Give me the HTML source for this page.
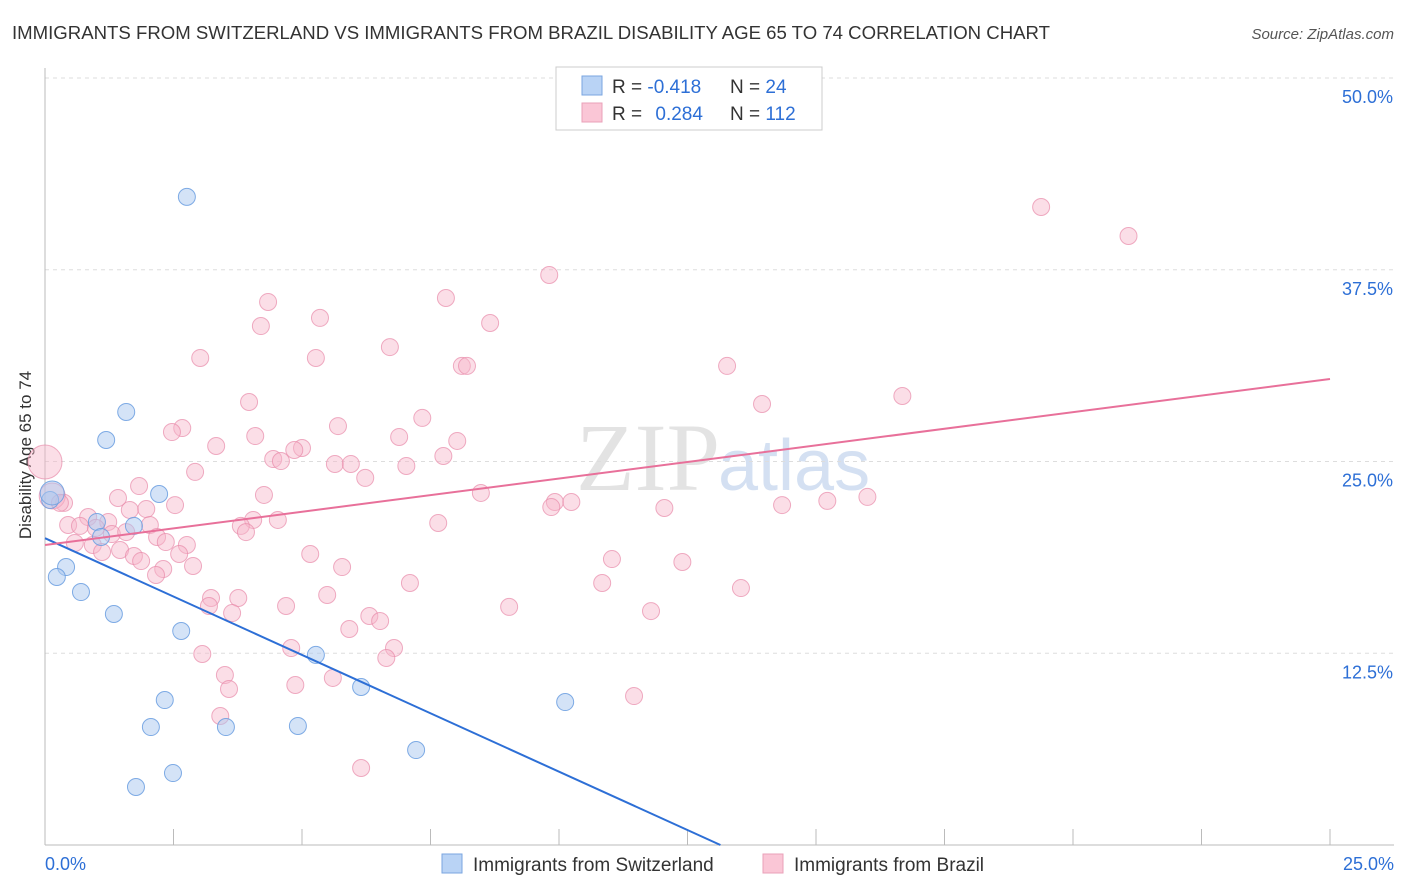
<!DOCTYPE html>
<html><head><meta charset="utf-8"><style>
body{margin:0;background:#fff;font-family:"Liberation Sans",sans-serif;}
#wrap{position:relative;width:1406px;height:892px;overflow:hidden;}
</style></head><body>
<div id="wrap">
<svg id="svg" width="1406" height="892" xmlns="http://www.w3.org/2000/svg">
<text x="12" y="39" font-size="18" fill="#333" textLength="1038" lengthAdjust="spacingAndGlyphs">IMMIGRANTS FROM SWITZERLAND VS IMMIGRANTS FROM BRAZIL DISABILITY AGE 65 TO 74 CORRELATION CHART</text>
<text x="1394" y="39" font-size="15" fill="#555" font-style="italic" text-anchor="end">Source: ZipAtlas.com</text>
<text x="720" y="490" font-size="96" fill="#d8d8d8" text-anchor="end" font-family="Liberation Serif, serif" opacity="0.7">ZIP</text>
<text x="718" y="490" font-size="72" fill="#b8cdea" opacity="0.6">atlas</text>
<text x="31" y="455" font-size="17" fill="#333" text-anchor="middle" transform="rotate(-90 31 455)">Disability Age 65 to 74</text>
<g id="grid"></g><g id="pts"></g><g id="lines"></g>
<g>
<rect x="556" y="67" width="266" height="63" fill="#fff" stroke="#ccc"/>
<rect x="582" y="76" width="20" height="19" fill="#b9d3f5" stroke="#7aa6e0"/>
<rect x="582" y="103" width="20" height="19" fill="#fac6d6" stroke="#eaa0b8"/>
<text x="612" y="93" font-size="19" fill="#333">R = <tspan fill="#2d6fd6">-0.418</tspan></text>
<text x="730" y="93" font-size="19" fill="#333">N = <tspan fill="#2d6fd6">24</tspan></text>
<text x="612" y="120" font-size="19" fill="#333">R = <tspan fill="#2d6fd6" dx="8">0.284</tspan></text>
<text x="730" y="120" font-size="19" fill="#333">N = <tspan fill="#2d6fd6">112</tspan></text>
</g>
<g>
<rect x="442" y="854" width="20" height="19" fill="#b9d3f5" stroke="#7aa6e0"/>
<text x="473" y="871" font-size="19" fill="#333">Immigrants from Switzerland</text>
<rect x="763" y="854" width="20" height="19" fill="#fac6d6" stroke="#eaa0b8"/>
<text x="794" y="871" font-size="19" fill="#333">Immigrants from Brazil</text>
</g>
</svg></div>
<script>
const yTicks=[12.5,25,37.5,50];
const yTickLabels=["12.5%","25.0%","37.5%","50.0%"];
const xTickLabels=["0.0%","25.0%"];
const blueX=[2.76,1.58,1.19,2.22,0.10,1.01,1.73,1.09,0.41,0.23,0.70,1.34,2.65,5.27,6.15,2.33,2.06,3.52,4.92,10.12,7.22,2.49,1.77,0.14];
const blueY=[42.25,28.23,26.40,22.88,22.49,21.06,20.80,20.08,18.12,17.47,16.49,15.06,13.95,12.39,10.30,9.45,7.69,7.69,7.76,9.32,6.19,4.69,3.78,22.95];
const pinkX=[19.38,21.08,9.81,7.80,4.34,5.35,4.20,8.66,6.71,3.02,5.27,8.11,8.21,13.27,16.68,3.97,13.95,7.34,5.70,2.67,2.47,6.89,8.02,3.33,4.09,5.00,4.85,4.44,4.59,7.75,5.64,5.95,7.03,2.92,6.23,1.83,4.26,8.48,1.42,2.53,9.92,10.24,9.85,12.05,14.34,15.22,16.00,1.65,1.97,0.37,0.84,4.05,4.53,3.81,7.65,2.04,3.91,1.23,0.45,0.68,0.99,1.30,1.58,2.18,2.35,0.58,0.93,2.76,2.61,1.11,1.46,1.73,1.87,5.16,11.03,12.40,2.88,2.30,2.16,5.78,7.10,10.84,13.54,3.23,3.76,5.49,3.19,4.69,9.03,11.79,3.64,6.31,6.52,5.92,6.79,4.79,3.06,6.64,3.50,5.60,4.87,3.58,11.46,3.41,6.15,0,0.14,0.29];
const pinkY=[41.59,39.70,37.16,35.66,35.40,34.36,33.83,34.03,32.46,31.75,31.75,31.23,31.23,31.23,29.27,28.88,28.75,27.84,27.31,27.18,26.92,26.60,26.34,26.01,26.66,25.88,25.75,25.16,25.03,25.36,24.84,24.84,24.71,24.32,23.93,23.40,22.82,22.95,22.62,22.16,22.36,22.36,22.03,21.97,22.16,22.43,22.69,21.84,21.90,22.30,21.38,21.19,21.19,20.80,20.99,20.86,20.40,21.06,20.86,20.80,20.67,20.27,20.40,20.08,19.75,19.69,19.56,19.56,18.97,19.10,19.23,18.84,18.51,18.97,18.64,18.45,18.19,17.99,17.60,18.12,17.08,17.08,16.75,16.10,16.10,16.30,15.58,15.58,15.52,15.25,15.12,14.93,14.60,14.08,12.84,12.84,12.45,12.19,11.08,10.89,10.43,10.17,9.71,8.41,5.02,24.97,22.75,22.30];
const blueTrend=[20.0,-1.522];
const pinkTrend=[19.56,0.4328];
const NS="http://www.w3.org/2000/svg";
const X0=45,X1=1330,Y0=845,Y1=78;
const xs=v=>X0+(v/25)*(X1-X0);
const ys=v=>Y0-(v/50)*(Y0-Y1);
function mk(t,a,p){const e=document.createElementNS(NS,t);for(const k in a)e.setAttribute(k,a[k]);p.appendChild(e);return e;}
const grid=document.getElementById('grid');
yTicks.forEach((t,i)=>{
 const l=mk('line',{x1:X0,x2:1394,y1:ys(t),y2:ys(t),stroke:'#ddd','stroke-dasharray':'4,4'},grid);
 
 
 const tx=mk('text',{x:1393,y:ys(t)+25,'font-size':18,fill:'#2d6fd6','text-anchor':'end'},grid);
 tx.textContent=yTickLabels[i];
 
 
});
const ax=mk('line',{x1:X0,x2:1394,y1:Y0,y2:Y0,stroke:'#bbb'},grid);


const ay=mk('line',{x1:X0,x2:X0,y1:68,y2:Y0,stroke:'#bbb'},grid);


for(let i=0;i<=10;i++){const tk=mk('line',{x1:xs(i*2.5),x2:xs(i*2.5),y1:Y0,y2:Y0-16,stroke:'#bbb'},grid);
 
 }
[[0,45,'start'],[25,1394,'end']].forEach((d,i)=>{const t=mk('text',{x:d[1],y:870,'font-size':18,fill:'#2d6fd6','text-anchor':d[2]},grid);t.textContent=xTickLabels[i];
 
 });
const pts=document.getElementById('pts');
pinkX.forEach((x,i)=>{const big=i>=pinkX.length-3&&i<pinkX.length-1;const c=mk('circle',{cx:xs(x),cy:ys(pinkY[i]),r:i==pinkX.length-3?17:(big?13:8.5),fill:'#f6b6ca','fill-opacity':0.45,stroke:'#e88aaa','stroke-opacity':0.7},pts);
 
 });
blueX.forEach((x,i)=>{const c=mk('circle',{cx:xs(x),cy:ys(blueY[i]),r:i==blueX.length-1?12:8.5,fill:'#a9c8f0','fill-opacity':0.5,stroke:'#6a9de0','stroke-opacity':0.85},pts);
 
 });
const lines=document.getElementById('lines');
const bEnd=-blueTrend[0]/blueTrend[1];
const bl=mk('line',{x1:xs(0),y1:ys(blueTrend[0]),x2:xs(bEnd),y2:ys(0),stroke:'#2d6fd6','stroke-width':2},lines);


const pl=mk('line',{x1:xs(0),y1:ys(pinkTrend[0]),x2:xs(25),y2:ys(pinkTrend[0]+25*pinkTrend[1]),stroke:'#e8709a','stroke-width':2},lines);


</script>
</body></html>
